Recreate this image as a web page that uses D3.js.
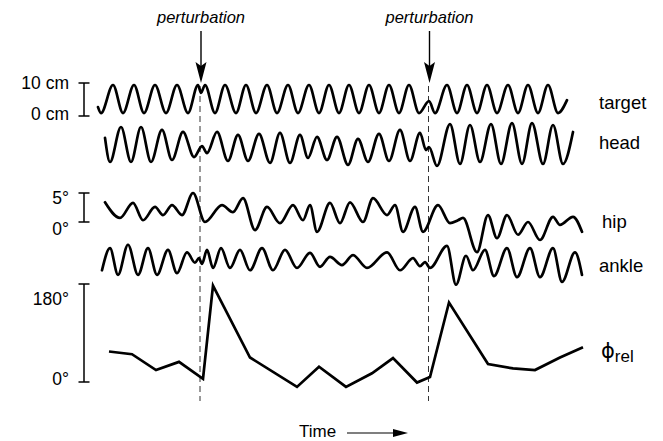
<!DOCTYPE html>
<html>
<head>
<meta charset="utf-8">
<script src="https://cdn.jsdelivr.net/npm/d3@7"></script>
<style>
  html, body { margin: 0; padding: 0; background: #fff; }
  svg { display: block; font-family: "Liberation Sans", Arial, sans-serif; }
</style>
</head>
<body>
<svg id="chart" width="663" height="441"></svg>
<script>
// Time (s) of the two phase perturbations of the target
const perturbTimes = [11.0, 33.85];

// Target motion (cm): extrema samples
const targetT  = [0.8, 1.1, 2.3, 3.3, 4.4, 5.4, 6.5, 7.6, 8.7, 9.8, 10.8, 11.1, 11.5, 12.5, 13.5, 14.6, 15.6, 16.6, 17.7, 18.7, 19.8, 20.8, 21.9, 22.9, 23.9, 24.9, 25.9, 26.9, 27.9, 28.9, 29.9, 30.9, 31.9, 32.9, 33.9, 34.5, 35.7, 36.7, 37.7, 38.7, 39.7, 40.7, 41.8, 42.8, 43.8, 44.8, 45.8, 46.8, 47.7];
const targetCm = [2.7, 0.9, 9.4, 0.9, 9.4, 0.9, 9.4, 0.9, 9.4, 0.9, 9.4, 7.0, 9.4, 0.9, 9.4, 0.9, 9.4, 0.9, 9.4, 0.9, 9.4, 0.9, 9.4, 0.9, 9.4, 0.9, 9.4, 0.9, 9.4, 0.9, 9.4, 0.9, 9.4, 0.9, 4.5, 0.9, 9.4, 0.9, 9.4, 0.9, 9.4, 0.9, 9.4, 0.9, 9.4, 0.9, 9.4, 0.9, 4.8];

// Head motion (cm)
const headT  = [1.5, 2.0, 3.1, 4.1, 5.1, 6.1, 7.2, 8.2, 9.3, 10.4, 11.2, 11.7, 12.7, 13.8, 14.8, 15.8, 16.9, 18.0, 19.0, 20.0, 21.0, 21.8, 22.7, 23.7, 24.7, 25.8, 26.8, 27.8, 28.9, 29.9, 31.0, 32.0, 33.0, 33.6, 33.9, 34.7, 36.0, 37.0, 38.0, 39.0, 40.1, 41.1, 42.2, 43.2, 44.2, 45.3, 46.3, 47.3, 48.3];
const headCm = [6.7, -0.6, 10.0, -0.6, 10.0, -0.6, 9.1, 0.0, 8.5, 0.9, 4.2, 2.1, 8.5, -0.3, 7.6, -0.3, 7.9, -0.9, 8.2, -0.9, 7.6, 0.6, 7.0, 0.0, 7.0, -1.5, 6.4, -0.6, 7.9, -0.3, 9.1, -0.3, 8.2, 3.0, 3.9, -1.8, 10.9, -1.2, 10.6, -0.6, 10.9, -1.2, 11.2, -1.2, 11.2, -1.2, 10.6, -1.2, 8.5];

// Hip angle (deg)
const hipT   = [1.5, 3.0, 4.3, 5.3, 6.5, 7.3, 8.2, 9.2, 10.3, 11.5, 13.2, 14.3, 15.3, 16.5, 17.7, 19.0, 20.3, 21.3, 22.0, 22.7, 24.0, 25.0, 26.0, 27.3, 28.3, 29.7, 30.5, 31.3, 32.5, 33.3, 34.8, 36.0, 36.8, 37.3, 38.7, 39.8, 40.7, 41.7, 42.8, 43.8, 45.0, 46.3, 47.0, 48.3, 49.2];
const hipDeg = [3.4, 0.7, 3.3, 0.3, 2.6, 1.2, 2.9, 1.2, 5.0, 0.0, 2.9, 1.7, 4.1, -1.4, 2.6, -0.2, 2.9, 0.3, 2.9, -1.7, 3.3, -0.2, 3.4, 0.0, 4.1, 1.2, 2.9, -1.7, 2.6, -1.7, 2.9, -0.2, 0.3, 0.7, -5.2, 1.2, -2.8, 1.2, -2.2, 0.0, -3.1, 0.9, -0.5, 0.9, -1.7];

// Ankle angle (deg)
const ankleT   = [1.2, 2.0, 2.8, 3.8, 4.8, 5.8, 6.7, 7.8, 8.7, 9.7, 10.5, 10.9, 11.2, 11.7, 12.3, 13.1, 14.0, 15.0, 16.0, 17.2, 18.3, 19.5, 20.7, 22.0, 23.0, 24.0, 25.2, 26.3, 27.7, 29.7, 31.0, 32.3, 33.0, 33.5, 34.0, 35.7, 36.6, 37.6, 38.3, 39.5, 40.4, 41.7, 42.7, 44.0, 45.0, 46.3, 47.2, 48.5, 49.2];
const ankleDeg = [0.3, 4.1, -0.5, 4.7, -0.5, 4.1, -0.5, 3.8, -0.2, 3.4, 1.6, 2.4, 1.4, 3.8, 0.7, 4.1, 0.7, 3.8, 0.3, 4.1, 0.3, 3.8, 0.7, 3.3, 0.9, 2.6, 1.2, 2.9, 0.7, 3.4, 0.3, 2.4, 1.0, 1.7, 0.7, 4.5, -2.2, 2.8, 0.3, 3.8, -0.7, 4.1, -0.9, 4.1, -0.9, 4.1, -1.7, 3.4, -0.5];

// Relative phase between hip and ankle (deg)
const phiT   = [1.9, 4.2, 6.6, 8.9, 11.3, 12.3, 16.0, 20.7, 22.9, 25.6, 28.2, 30.3, 32.7, 34.0, 35.9, 39.8, 42.3, 44.5, 47.0, 49.3];
const phiDeg = [56, 51, 22, 37, 6, 177, 45, -9, 28, -9, 16, 44, -1, 9, 146, 33, 25, 22, 45, 64];

// Scale-bar tick labels
const cmTicks  = [10, 0];
const cmLabels = ["10 cm", "0 cm"];
const hipTicks  = [5, 0];
const hipLabels = ["5°", "0°"];
const phiTicks  = [180, 0];
const phiLabels = ["180°", "0°"];

const svg = d3.select("#chart");

const x = d3.scaleLinear().domain([0, 50]).range([90, 590]);
const yTarget = d3.scaleLinear().domain([0, 10]).range([116, 83]);
const yHead   = d3.scaleLinear().domain([0, 10]).range([160, 127]);
const yHip    = d3.scaleLinear().domain([0, 5]).range([222, 193]);
const yAnkle  = d3.scaleLinear().domain([0, 5]).range([272, 243]);
const yPhi    = d3.scaleLinear().domain([0, 180]).range([382, 284]);

// Perturbation markers: dashed verticals
svg.append("g").selectAll("line").data(perturbTimes).join("line")
  .attr("x1", d => x(d)).attr("x2", d => x(d))
  .attr("y1", 86).attr("y2", 401)
  .attr("stroke", "#333").attr("stroke-width", 1)
  .attr("stroke-dasharray", "6,4");

// Arrows with labels
const arrows = svg.append("g").selectAll("g").data(perturbTimes).join("g")
  .attr("transform", d => `translate(${x(d) + 1},0)`);
arrows.append("line").attr("x1", 0).attr("x2", 0).attr("y1", 31).attr("y2", 68)
  .attr("stroke", "#000").attr("stroke-width", 1.4);
arrows.append("path").attr("d", "M-5.5,62 L0,83 L5.5,62 L0,66 Z").attr("fill", "#000");
arrows.append("text").attr("y", 23).attr("text-anchor", "middle")
  .attr("font-size", 16.5).attr("font-style", "italic").text("perturbation");

// Traces
const traces = [
  { t: targetT, v: targetCm, y: yTarget },
  { t: headT,   v: headCm,   y: yHead },
  { t: hipT,    v: hipDeg,   y: yHip },
  { t: ankleT,  v: ankleDeg, y: yAnkle }
];
traces.forEach(tr => {
  const line = d3.line().x(d => x(d[0])).y(d => tr.y(d[1])).curve(d3.curveMonotoneX);
  svg.append("path").datum(d3.zip(tr.t, tr.v)).attr("d", line)
    .attr("fill", "none").attr("stroke", "#000").attr("stroke-width", 2.7)
    .attr("stroke-linejoin", "round").attr("stroke-linecap", "round");
});

// Relative phase line
svg.append("path").datum(d3.zip(phiT, phiDeg))
  .attr("d", d3.line().x(d => x(d[0])).y(d => yPhi(d[1])))
  .attr("fill", "none").attr("stroke", "#000").attr("stroke-width", 2.7)
  .attr("stroke-linejoin", "miter");

// Scale bars
function scaleBar(scale, ticks, labels, barX, labelDy) {
  const g = svg.append("g");
  g.append("line").attr("x1", barX).attr("x2", barX)
    .attr("y1", scale(ticks[0])).attr("y2", scale(ticks[1]))
    .attr("stroke", "#000").attr("stroke-width", 1.5);
  g.selectAll("line.tick").data(ticks).join("line").attr("class", "tick")
    .attr("x1", barX - 5.5).attr("x2", barX + 5.5)
    .attr("y1", d => scale(d)).attr("y2", d => scale(d))
    .attr("stroke", "#000").attr("stroke-width", 1.5);
  g.selectAll("text").data(ticks).join("text")
    .attr("x", 69).attr("y", (d, i) => scale(d) + labelDy[i])
    .attr("text-anchor", "end").attr("font-size", 17.5)
    .text((d, i) => labels[i]);
}
scaleBar(yTarget, cmTicks, cmLabels, 84, [6, 4]);
scaleBar(yHip, hipTicks, hipLabels, 84, [11, 13]);
scaleBar(yPhi, phiTicks, phiLabels, 84, [21, 3]);

// Trace names
const names = [
  { text: "target", y: 109 },
  { text: "head", y: 149 },
  { text: "hip", y: 228 },
  { text: "ankle", y: 272 }
];
svg.append("g").selectAll("text").data(names).join("text")
  .attr("x", d => d.text === "hip" ? 602 : 599).attr("y", d => d.y)
  .attr("font-size", 18.5).text(d => d.text);

const phiLabel = svg.append("text").attr("x", 601).attr("y", 358).attr("font-size", 22);
phiLabel.append("tspan").attr("font-family", "DejaVu Sans").attr("font-size", 21).text("ϕ");
phiLabel.append("tspan").attr("font-size", 17).attr("dy", 4).text("rel");

// Time axis label with arrow
svg.append("text").attr("x", 299).attr("y", 437).attr("font-size", 17).text("Time");
svg.append("line").attr("x1", 347).attr("x2", 396).attr("y1", 433).attr("y2", 433)
  .attr("stroke", "#000").attr("stroke-width", 1.2);
svg.append("path").attr("d", "M393,429 L408,433 L393,437 Z").attr("fill", "#000");
</script>
</body>
</html>
